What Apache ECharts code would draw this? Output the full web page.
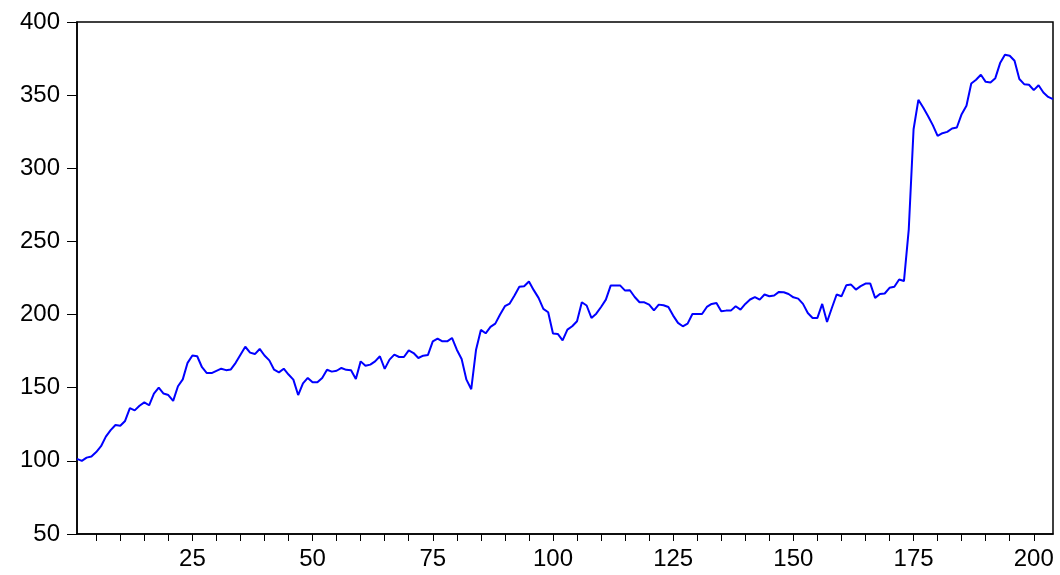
<!DOCTYPE html>
<html>
<head>
<meta charset="utf-8">
<script src="https://cdn.jsdelivr.net/npm/echarts@6/dist/echarts.min.js"></script>
<style>
  html, body { margin: 0; padding: 0; background: #ffffff; }
  #chart { width: 1060px; height: 575px; }
</style>
</head>
<body>
<div id="chart"></div>
<script>
// Observation values, one per period (obs 1 .. N)
const values = [
  101.4, 100.0, 102.2, 103.0, 106.0, 110.0, 116.6, 121.0, 124.5, 124.0,
  127.3, 136.0, 134.5, 137.7, 140.0, 138.0, 146.0, 150.0, 146.0, 145.0,
  141.0, 151.0, 155.7, 167.0, 172.0, 171.5, 164.0, 160.0, 160.0, 161.5,
  163.0, 162.0, 162.5, 167.0, 172.6, 178.0, 174.0, 173.0, 176.5, 172.0,
  168.7, 162.3, 160.5, 163.0, 159.0, 155.5, 145.0, 153.0, 156.7, 153.7,
  153.7, 156.7, 162.3, 161.0, 161.6, 163.5, 162.2, 162.0, 156.0, 168.0,
  165.0, 165.8, 168.0, 171.5, 162.9, 169.2, 172.6, 171.0, 171.0, 175.5,
  173.7, 170.3, 171.9, 172.4, 181.7, 183.6, 181.7, 181.7, 184.0, 176.0,
  169.6, 155.5, 149.0, 176.0, 189.5, 187.2, 191.6, 193.8, 200.0, 205.7,
  207.5, 213.0, 219.0, 219.4, 222.6, 216.7, 211.4, 203.9, 201.6, 187.0,
  186.8, 182.4, 189.7, 192.0, 195.4, 208.4, 206.2, 197.7, 200.6, 205.2,
  210.2, 219.8, 219.8, 219.8, 216.4, 216.6, 212.0, 208.4, 208.4, 206.8,
  202.9, 206.8, 206.4, 205.2, 199.3, 194.3, 192.0, 193.8, 200.4, 200.4,
  200.4, 205.2, 207.3, 207.9, 202.2, 202.7, 202.7, 205.7, 203.4, 207.3,
  210.3, 212.0, 210.2, 213.7, 212.5, 213.0, 215.5, 215.3, 214.1, 211.8,
  210.9, 207.3, 201.1, 197.7, 197.7, 207.3, 194.9, 204.5, 213.7, 212.5,
  220.0, 220.5, 217.1, 219.4, 221.2, 221.2, 211.4, 214.1, 214.4, 218.3,
  219.0, 224.0, 222.9, 258.3, 326.7, 346.8, 341.6, 335.8, 329.5, 322.2,
  324.0, 324.9, 327.2, 327.9, 337.0, 342.7, 358.0, 360.5, 363.9, 359.1,
  358.7, 361.6, 371.9, 377.6, 376.9, 373.5, 361.0, 357.5, 357.1, 353.4,
  356.8, 351.8, 348.8, 347.3
];

// Axis tick positions and labels
const xTickValues = [];
for (let t = 5; t <= 200; t += 5) xTickValues.push(t);
const xLabelValues = [25, 50, 75, 100, 125, 150, 175, 200];
const yMin = 50, yMax = 400, yStep = 50;

const points = values.map((v, i) => [i + 1, v]);

const chart = echarts.init(document.getElementById('chart'), null, { renderer: 'canvas' });

const labelFont = {
  fontFamily: 'Liberation Sans, Arial, sans-serif',
  fontSize: 24,
  color: '#000000'
};

chart.setOption({
  animation: false,
  backgroundColor: '#ffffff',
  grid: {
    left: 77,
    right: 7,
    top: 22,
    bottom: 41,
    show: true,
    borderColor: '#000000',
    borderWidth: 1.5,
    backgroundColor: 'transparent'
  },
  xAxis: {
    type: 'value',
    min: 1,
    max: values.length,
    axisLine: { show: true, lineStyle: { color: '#000000', width: 1.5 } },
    axisTick: {
      show: true,
      inside: false,
      length: 7,
      customValues: xTickValues,
      lineStyle: { color: '#000000', width: 1 }
    },
    axisLabel: Object.assign({
      show: true,
      margin: 13,
      customValues: xLabelValues
    }, labelFont),
    splitLine: { show: false }
  },
  yAxis: {
    type: 'value',
    min: yMin,
    max: yMax,
    interval: yStep,
    axisLine: { show: true, lineStyle: { color: '#000000', width: 1.5 } },
    axisTick: {
      show: true,
      inside: false,
      length: 10,
      lineStyle: { color: '#000000', width: 1 }
    },
    axisLabel: Object.assign({ margin: 17 }, labelFont),
    splitLine: { show: false }
  },
  series: [{
    type: 'line',
    data: points,
    showSymbol: false,
    symbol: 'none',
    lineStyle: { color: '#0000ff', width: 2 },
    itemStyle: { color: '#0000ff' }
  }]
});
</script>
</body>
</html>
